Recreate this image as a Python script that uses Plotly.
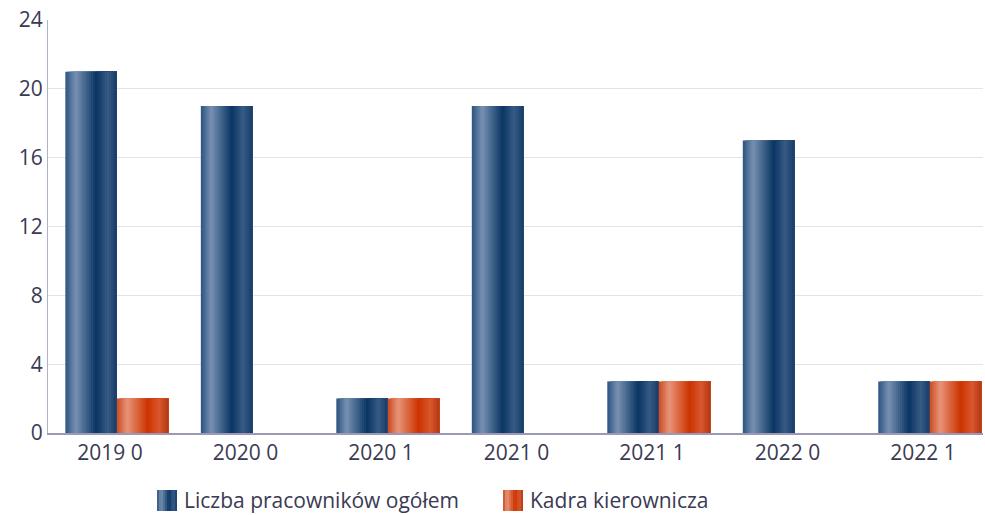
import numpy as np
import plotly.graph_objects as go

categories = ["2019 0", "2020 0", "2020 1", "2021 0", "2021 1", "2022 0", "2022 1"]
total_staff = [21, 19, 2, 19, 3, 17, 3]
management = [2, 0, 2, 0, 3, 0, 3]
series_names = ["Liczba pracowników ogółem", "Kadra kierownicza"]
y_ticks = [0, 4, 8, 12, 16, 20, 24]

W, H = 985, 515
ML, MR, MT, MB = 48, 2, 20, 82
PW, PH = W - ML - MR, H - MT - MB


def hex2rgb(h):
    h = h.lstrip("#")
    return np.array([int(h[i:i + 2], 16) for i in (0, 2, 4)], dtype=float)


def grad(stops, t):
    pos = [s[0] for s in stops]
    cols = [hex2rgb(s[1]) for s in stops]
    for i in range(len(pos) - 1):
        if pos[i] <= t <= pos[i + 1]:
            f = (t - pos[i]) / (pos[i + 1] - pos[i])
            c = cols[i] * (1 - f) + cols[i + 1] * f
            return "rgb(%d,%d,%d)" % tuple(c.round())
    return "rgb(%d,%d,%d)" % tuple(cols[-1].round())


blue_stops = [(0, "#2a5280"), (0.2, "#7892b2"), (0.6, "#0a3564"), (0.82, "#375b84"), (1, "#163d6a")]
orange_stops = [(0, "#c94a20"), (0.2, "#e8957a"), (0.6, "#cc3300"), (0.82, "#d9582e"), (1, "#b53812")]

fig = go.Figure()
bar_w = 0.38
shift = 0.05
N = 26
sw = bar_w / N
for vals, stops, start in [(total_staff, blue_stops, shift - bar_w), (management, orange_stops, shift)]:
    for k in range(N):
        t = (k + 0.5) / N
        fig.add_trace(go.Bar(
            x=categories, y=vals, width=bar_w - k * sw, offset=start + k * sw,
            marker=dict(color=grad(stops, t), line=dict(width=0)),
            showlegend=False, hoverinfo="skip",
        ))


def px_x(p):
    return (p - ML) / PW


def px_y(p):
    return (H - MB - p) / PH


shapes = []
annotations = []
legend_items = [(157, blue_stops, series_names[0]), (503, orange_stops, series_names[1])]
NS = 10
for x0, stops, name in legend_items:
    for k in range(NS):
        t = (k + 0.5) / NS
        shapes.append(dict(type="rect", xref="paper", yref="paper",
                           x0=px_x(x0 + k * 20 / NS), x1=px_x(x0 + 20),
                           y0=px_y(511), y1=px_y(490),
                           fillcolor=grad(stops, t), line=dict(width=0), layer="above"))
    annotations.append(dict(text=name, xref="paper", yref="paper", x=px_x(x0 + 25),
                            y=px_y(500), xanchor="left", yanchor="middle", showarrow=False,
                            font=dict(size=21, color="#3a3a52")))

fig.update_layout(
    width=W, height=H,
    barmode="overlay",
    plot_bgcolor="white", paper_bgcolor="white",
    margin=dict(l=ML, r=MR, t=MT, b=MB),
    font=dict(family="Open Sans, Noto Sans, sans-serif", color="#3a3a52", size=21),
    showlegend=False,
    shapes=shapes, annotations=annotations,
)
fig.update_xaxes(type="category", range=[-0.458, 6.443], showline=True, linecolor="#9a9ab8",
                 linewidth=1.5, showgrid=False, ticks="", tickfont=dict(size=21), automargin=False)
fig.update_yaxes(range=[0, 24], tickvals=y_ticks, showline=True, linecolor="#b0b0cc",
                 linewidth=1, gridcolor="#e4e4e4", gridwidth=1, zeroline=False,
                 ticks="", tickfont=dict(size=21), automargin=False)

fig.write_html("out.html", config={"displayModeBar": False},
               post_script="document.body.style.margin='0';document.body.style.overflow='hidden';")
